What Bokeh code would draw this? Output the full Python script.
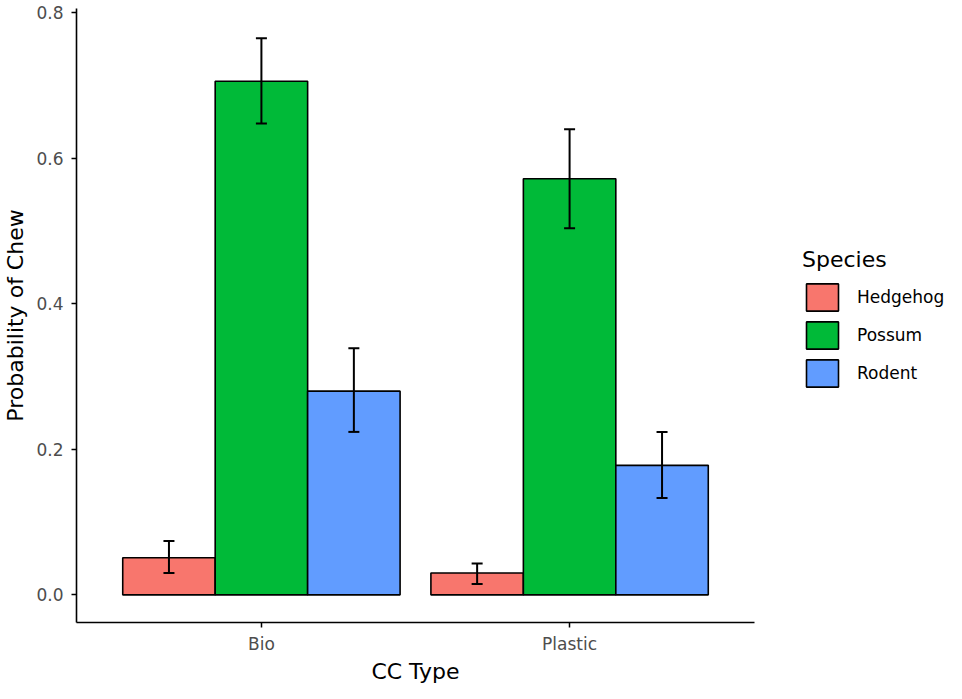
from bokeh.plotting import figure
from bokeh.layouts import row
from bokeh.models import (ColumnDataSource, FactorRange, Range1d, Whisker, TeeHead, Title,
                          Legend, LegendItem, FixedTicker, PrintfTickFormatter)
from bokeh.transform import dodge
from bokeh.embed import file_html
from bokeh.resources import INLINE

categories = ["Bio", "Plastic"]
species = ["Hedgehog", "Possum", "Rodent"]
colors = ["#F8766D", "#00BA38", "#619CFF"]

hedgehog_mean = [0.051, 0.030]
hedgehog_lower = [0.030, 0.015]
hedgehog_upper = [0.074, 0.043]

possum_mean = [0.706, 0.572]
possum_lower = [0.648, 0.504]
possum_upper = [0.765, 0.640]

rodent_mean = [0.280, 0.178]
rodent_lower = [0.224, 0.133]
rodent_upper = [0.339, 0.224]

y_ticks = [0.0, 0.2, 0.4, 0.6, 0.8]

means = [hedgehog_mean, possum_mean, rodent_mean]
lowers = [hedgehog_lower, possum_lower, rodent_lower]
uppers = [hedgehog_upper, possum_upper, rodent_upper]
offsets = [-0.3, 0.0, 0.3]
bar_w = 0.3

FONT = "DejaVu Sans"

p = figure(x_range=FactorRange(factors=categories, range_padding=0.1, range_padding_units="percent"),
           y_range=Range1d(-0.038, 0.806),
           width=760, height=683, output_backend="svg", toolbar_location=None,
           min_border_left=74, min_border_right=6, min_border_top=8, min_border_bottom=0)

p.outline_line_color = None
p.xgrid.visible = False
p.ygrid.visible = False

for sp, col, m, lo, up, off in zip(species, colors, means, lowers, uppers, offsets):
    src = ColumnDataSource(dict(cc=categories, mean=m, lower=lo, upper=up))
    p.vbar(x=dodge("cc", off, range=p.x_range), top="mean", bottom=0, width=bar_w,
           source=src, fill_color=col, line_color="black", line_width=1.6)
    w = Whisker(source=src, base=dodge("cc", off, range=p.x_range), upper="upper", lower="lower",
                line_color="black", line_width=2, level="annotation",
                upper_head=TeeHead(size=11, line_width=2, line_color="black"),
                lower_head=TeeHead(size=11, line_width=2, line_color="black"))
    p.add_layout(w)

# axes
for ax in (p.xaxis[0], p.yaxis[0]):
    ax.axis_line_color = "black"
    ax.axis_line_width = 1.6
    ax.major_tick_line_color = "black"
    ax.major_tick_line_width = 1.5
    ax.major_tick_in = 0
    ax.major_tick_out = 5
    ax.minor_tick_line_color = None
    ax.major_label_text_font = FONT
    ax.major_label_text_color = "#4D4D4D"
    ax.major_label_text_font_size = "17px"
    ax.axis_label_text_font = FONT
    ax.axis_label_text_font_style = "normal"
    ax.axis_label_text_color = "black"
    ax.axis_label_text_font_size = "22px"

p.yaxis[0].ticker = FixedTicker(ticks=y_ticks)
p.yaxis[0].formatter = PrintfTickFormatter(format="%.1f")
p.yaxis[0].axis_label = "Probability of Chew"
p.yaxis[0].major_label_standoff = 8
p.yaxis[0].axis_label_standoff = 5
p.xaxis[0].major_label_standoff = 6

p.add_layout(Title(text="CC Type", align="center", text_font=FONT, text_font_size="22px",
                   text_font_style="normal", text_color="black", standoff=0, offset=0), "below")

# legend panel (keys only; glyph renderers hidden)
lg = figure(width=186, height=683, output_backend="svg", toolbar_location=None,
            x_range=FactorRange(factors=species), y_range=Range1d(0, 1),
            x_axis_type=None, y_axis_type=None, min_border=0)
lg.outline_line_color = None
lg.xgrid.visible = False
lg.ygrid.visible = False
items = []
for sp, col, m in zip(species, colors, means):
    r = lg.vbar(x=[sp], top=[m[0]], width=0.5, fill_color=col, line_color="black",
                line_width=1.6, visible=False)
    items.append(LegendItem(label=sp, renderers=[r]))

legend = Legend(items=items, location=(42, 232), title="Species",
                title_text_font=FONT, title_text_font_size="22px", title_text_color="black",
                title_text_font_style="normal", title_standoff=8,
                label_text_font=FONT, label_text_font_size="17px", label_text_color="black",
                glyph_width=40, glyph_height=34, spacing=4, label_standoff=15,
                padding=0, margin=0, border_line_color=None, background_fill_alpha=0,
                click_policy="none")
lg.add_layout(legend, "center")

layout = row(p, lg)
open("out.html", "w").write(file_html(layout, INLINE))
